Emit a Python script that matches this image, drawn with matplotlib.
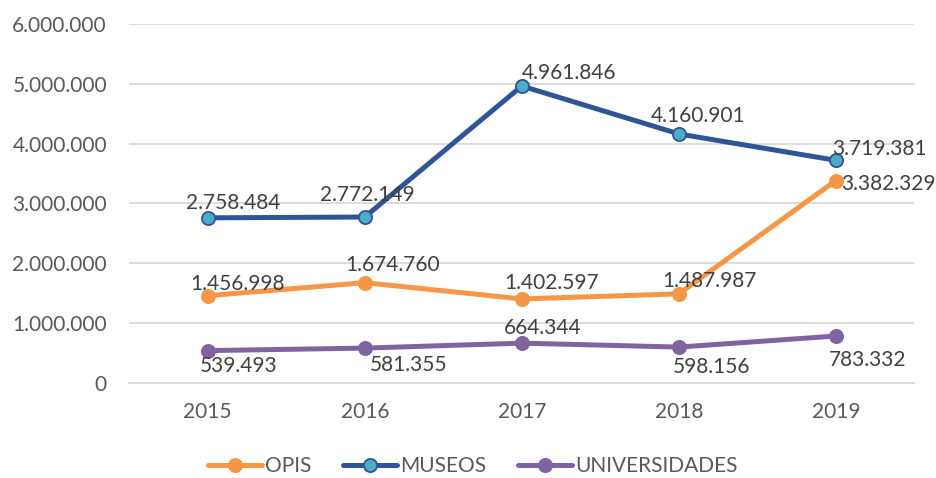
"""Visitantes por año: OPIS, museos y universidades (2015-2019)."""

import matplotlib
matplotlib.use("Agg")
import matplotlib.pyplot as plt
from matplotlib.ticker import FuncFormatter

YEARS = ["2015", "2016", "2017", "2018", "2019"]
OPIS = [1456998, 1674760, 1402597, 1487987, 3382329]
MUSEOS = [2758484, 2772149, 4961846, 4160901, 3719381]
UNIVERSIDADES = [539493, 581355, 664344, 598156, 783332]

# desplazamiento de cada etiqueta respecto a su punto (px, y hacia arriba)
OFFSETS = {
    "OPIS": [(30, 12), (28, 18), (30, 16), (31, 13), (52, -3)],
    "MUSEOS": [(25, 15), (3, 22), (47, 13), (19, 18), (43, 11)],
    "UNIVERSIDADES": [(31, -15), (44, -17), (21, 15), (33, -20), (32, -24)],
}

plt.rcParams["font.family"] = ["Lato", "DejaVu Sans"]


def fmt(v):
    return f"{int(v):,}".replace(",", ".")


def main():
    fig = plt.figure(figsize=(9.36, 4.78), dpi=100)
    ax = fig.add_axes([0.138, 0.199, 0.839, 0.751])
    x = list(range(len(YEARS)))

    series = [
        ("OPIS", OPIS, "#f79646", "#f79646", "#f79646"),
        ("MUSEOS", MUSEOS, "#2f5597", "#4bacc6", "#2f5597"),
        ("UNIVERSIDADES", UNIVERSIDADES, "#8064a2", "#8064a2", "#8064a2"),
    ]
    for name, vals, color, face, edge in series:
        ax.plot(x, vals, color=color, lw=3.6, marker="o", ms=9.5,
                mfc=face, mec=edge, mew=1.3, label=name, zorder=3,
                solid_capstyle="round")
        for xi, v, (dx, dy) in zip(x, vals, OFFSETS[name]):
            ax.annotate(fmt(v), (xi, v), xytext=(dx, dy),
                        textcoords="offset pixels", ha="center", va="center",
                        fontsize=15, color="#404040", zorder=4)

    ax.set_xlim(-0.5, len(YEARS) - 0.5)
    ax.set_ylim(0, 6000000)
    ax.set_yticks(range(0, 6000001, 1000000))
    ax.yaxis.set_major_formatter(FuncFormatter(lambda v, _: fmt(v)))
    ax.set_xticks(x)
    ax.set_xticklabels(YEARS)
    ax.tick_params(axis="both", length=0, labelsize=15, colors="#595959")
    ax.tick_params(axis="y", pad=16)
    ax.tick_params(axis="x", pad=14)
    ax.grid(axis="y", color="#d9d9d9", lw=1.3)
    ax.set_axisbelow(True)
    for side in ["top", "right", "left"]:
        ax.spines[side].set_visible(False)
    ax.spines["bottom"].set_color("#d9d9d9")
    ax.spines["bottom"].set_linewidth(1.3)

    leg = fig.legend(loc="center", bbox_to_anchor=(0.505, 0.025), ncol=3,
                     frameon=False, fontsize=15, handlelength=2.6,
                     handletextpad=0.15, columnspacing=1.5)
    for t in leg.get_texts():
        t.set_color("#595959")

    fig.savefig("out.png", dpi=100)


if __name__ == "__main__":
    main()
